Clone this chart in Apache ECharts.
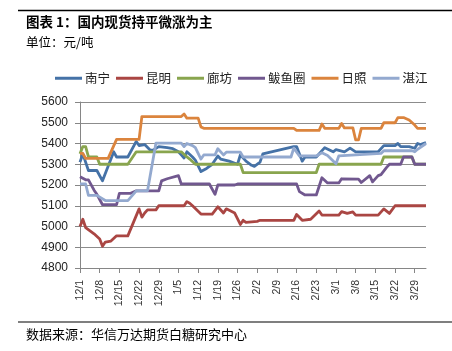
<!DOCTYPE html>
<html>
<head>
<meta charset="utf-8">
<script src="https://cdn.jsdelivr.net/npm/echarts@6/dist/echarts.min.js"></script>
<style>
html,body{margin:0;padding:0;background:#fff;}
#c{width:452px;height:351px;}
</style>
</head>
<body>
<div id="c"></div>
<script>
// Categories: daily dates 12/1 .. 4/2
const categories = [
'12/1','12/2','12/3','12/4','12/5','12/6','12/7','12/8','12/9','12/10','12/11','12/12','12/13','12/14','12/15','12/16','12/17','12/18','12/19','12/20','12/21','12/22','12/23','12/24','12/25','12/26','12/27','12/28','12/29','12/30','12/31',
'1/1','1/2','1/3','1/4','1/5','1/6','1/7','1/8','1/9','1/10','1/11','1/12','1/13','1/14','1/15','1/16','1/17','1/18','1/19','1/20','1/21','1/22','1/23','1/24','1/25','1/26','1/27','1/28','1/29','1/30','1/31',
'2/1','2/2','2/3','2/4','2/5','2/6','2/7','2/8','2/9','2/10','2/11','2/12','2/13','2/14','2/15','2/16','2/17','2/18','2/19','2/20','2/21','2/22','2/23','2/24','2/25','2/26','2/27','2/28','2/29',
'3/1','3/2','3/3','3/4','3/5','3/6','3/7','3/8','3/9','3/10','3/11','3/12','3/13','3/14','3/15','3/16','3/17','3/18','3/19','3/20','3/21','3/22','3/23','3/24','3/25','3/26','3/27','3/28','3/29','3/30','3/31',
'4/1','4/2'];

const seriesNames = ['南宁','昆明','廊坊','鲅鱼圈','日照','湛江'];
const yTicks = [4800, 5600, 100]; // min, max, step

// 南宁
const nanningDates = ['12/1','12/2','12/4','12/7','12/9','12/11','12/13','12/14','12/18','12/21','12/22','12/24','12/26','12/27','12/29','1/1','1/3','1/5','1/6','1/7','1/8','1/10','1/11','1/13','1/15','1/17','1/19','1/20','1/23','1/26','1/27','1/29','1/31','2/1','2/3','2/4','2/15','2/16','2/18','2/19','2/23','2/26','2/29','3/1','3/4','3/6','3/8','3/16','3/18','3/22','3/23','3/24','3/27','3/29','3/30','3/31','4/2'];
const nanningVals  = [5310,5350,5270,5270,5220,5290,5360,5335,5335,5410,5390,5395,5368,5368,5385,5380,5375,5360,5345,5330,5360,5335,5320,5265,5280,5300,5340,5325,5315,5300,5345,5315,5295,5290,5310,5350,5385,5385,5315,5335,5335,5380,5360,5370,5360,5378,5360,5360,5390,5390,5400,5385,5385,5377,5400,5395,5405];

// 昆明
const kunmingDates = ['12/1','12/2','12/3','12/6','12/8','12/9','12/10','12/12','12/14','12/18','12/20','12/22','12/23','12/24','12/25','12/28','12/29','1/7','1/8','1/9','1/10','1/13','1/17','1/19','1/21','1/22','1/25','1/27','1/28','1/29','2/2','2/3','2/15','2/16','2/18','2/21','2/24','2/25','3/2','3/3','3/5','3/7','3/8','3/16','3/18','3/20','3/22','4/2'];
const kunmingVals  = [5000,5035,4995,4965,4940,4905,4925,4930,4955,4955,5020,5085,5045,5065,5080,5080,5100,5100,5120,5112,5100,5060,5060,5095,5065,5085,5065,5010,5030,5020,5025,5030,5030,5058,5030,5035,5075,5055,5055,5072,5063,5070,5055,5055,5085,5063,5100,5100];

// 廊坊
const langfangDates = ['12/1','12/2','12/3','12/4','12/7','12/8','12/18','12/21','1/6','1/8','1/9','1/11','1/27','1/28','2/23','2/24','3/17','3/18','3/28','3/29','4/2'];
const langfangVals  = [5350,5385,5385,5335,5335,5300,5300,5360,5360,5335,5325,5300,5300,5260,5260,5300,5300,5335,5335,5300,5300];

// 鲅鱼圈
const bayuquanDates = ['12/1','12/3','12/4','12/6','12/7','12/9','12/14','12/15','12/19','12/21','12/29','12/30','1/1','1/5','1/6','1/16','1/18','1/19','1/25','1/26','2/16','2/17','2/19','2/23','2/25','2/27','3/2','3/3','3/9','3/10','3/13','3/14','3/16','3/17','3/19','3/20','3/24','3/25','3/28','3/29','4/2'];
const bayuquanVals  = [5240,5225,5225,5175,5155,5105,5105,5160,5160,5172,5172,5220,5230,5245,5205,5205,5155,5200,5200,5205,5205,5168,5152,5152,5235,5210,5210,5230,5228,5212,5245,5215,5245,5250,5285,5300,5300,5335,5335,5300,5300];

// 日照
const rizhaoDates = ['12/1','12/2','12/3','12/11','12/14','12/22','12/23','1/6','1/7','1/8','1/12','1/13','1/14','2/15','2/16','2/24','2/25','2/26','3/2','3/3','3/4','3/7','3/8','3/9','3/10','3/17','3/18','3/22','3/23','3/25','3/27','3/29','3/30','4/2'];
const rizhaoVals  = [5352,5352,5328,5328,5420,5420,5530,5530,5542,5522,5522,5480,5473,5473,5463,5463,5494,5473,5473,5496,5475,5475,5417,5417,5473,5473,5500,5500,5525,5525,5513,5489,5473,5473];

// 湛江
const zhanjiangDates = ['12/1','12/3','12/4','12/7','12/10','12/18','12/21','12/25','12/28','1/6','1/7','1/8','1/10','1/11','1/13','1/14','1/18','1/19','1/21','1/22','1/27','1/28','2/14','2/15','2/17','2/23','2/25','2/27','3/1','3/2','3/17','3/18','3/28','3/29','3/30','4/2'];
const zhanjiangVals  = [5205,5205,5150,5150,5125,5125,5172,5172,5402,5402,5385,5400,5390,5380,5325,5345,5345,5375,5345,5358,5358,5335,5335,5378,5340,5340,5355,5342,5302,5340,5352,5365,5365,5360,5372,5400];

const colors = ['#4572A7','#AA4643','#89A54E','#71588F','#DB843D','#93A9CF'];
const seriesDates = [nanningDates, kunmingDates, langfangDates, bayuquanDates, rizhaoDates, zhanjiangDates];
const seriesVals = [nanningVals, kunmingVals, langfangVals, bayuquanVals, rizhaoVals, zhanjiangVals];

const FONT = '"Liberation Sans", "Noto Sans CJK SC", sans-serif';
const CJK = '"Noto Sans CJK SC", sans-serif';

const chart = echarts.init(document.getElementById('c'), null, {renderer: 'canvas'});
chart.setOption({
  animation: false,
  backgroundColor: '#fff',
  color: colors,
  grid: {left: 80, right: 26, top: 102, bottom: 83, containLabel: false},
  legend: {
    data: seriesNames,
    left: 50, top: 67,
    icon: 'rect', itemWidth: 27, itemHeight: 3, itemGap: 6,
    textStyle: {fontFamily: CJK, fontSize: 12.5, color: '#222', padding: [0,0,0,-2]}
  },
  xAxis: {
    type: 'category', data: categories, boundaryGap: false,
    axisLine: {lineStyle: {color: '#868686', width: 1}},
    axisTick: {show: true, interval: 6, length: 5, lineStyle: {color: '#868686'}},
    axisLabel: {interval: 6, rotate: 90, margin: 12, fontFamily: FONT, fontSize: 10.5, color: '#333'},
    splitLine: {show: false}
  },
  yAxis: {
    type: 'value', min: yTicks[0], max: yTicks[1], interval: yTicks[2],
    axisLine: {show: true, lineStyle: {color: '#868686', width: 1}},
    axisTick: {show: true, length: 5, lineStyle: {color: '#868686'}},
    axisLabel: {margin: 12, fontFamily: FONT, fontSize: 12, color: '#222', formatter: v => String(v)},
    splitLine: {lineStyle: {color: '#8c8c8c', width: 1}}
  },
  series: seriesNames.map((name, i) => ({
    name: name, type: 'line', showSymbol: false, symbol: 'none',
    lineStyle: {width: 2.8, color: colors[i], join: 'round'},
    itemStyle: {color: colors[i]},
    data: seriesDates[i].map((d, k) => [d, seriesVals[i][k]])
  })),
  graphic: [
    {type: 'line', shape: {x1: 18, y1: 10.5, x2: 452, y2: 10.5}, style: {stroke: '#000', lineWidth: 1.5}},
    {type: 'text', x: 26, y: 22, style: {text: '图表 1：国内现货持平微涨为主', font: 'bold 13.5px "Noto Sans CJK SC", sans-serif', fill: '#000', textVerticalAlign: 'middle', verticalAlign: 'middle'}},
    {type: 'text', x: 26, y: 42, style: {text: '单位：元/吨', font: '12.5px "Noto Sans CJK SC", sans-serif', fill: '#000', textVerticalAlign: 'middle', verticalAlign: 'middle'}},
    {type: 'line', shape: {x1: 18, y1: 322, x2: 452, y2: 322}, style: {stroke: '#000', lineWidth: 1.2}},
    {type: 'text', x: 26, y: 334, style: {text: '数据来源：华信万达期货白糖研究中心', font: '13px "Noto Sans CJK SC", sans-serif', fill: '#000', textVerticalAlign: 'middle', verticalAlign: 'middle'}}
  ]
});
</script>
</body>
</html>
